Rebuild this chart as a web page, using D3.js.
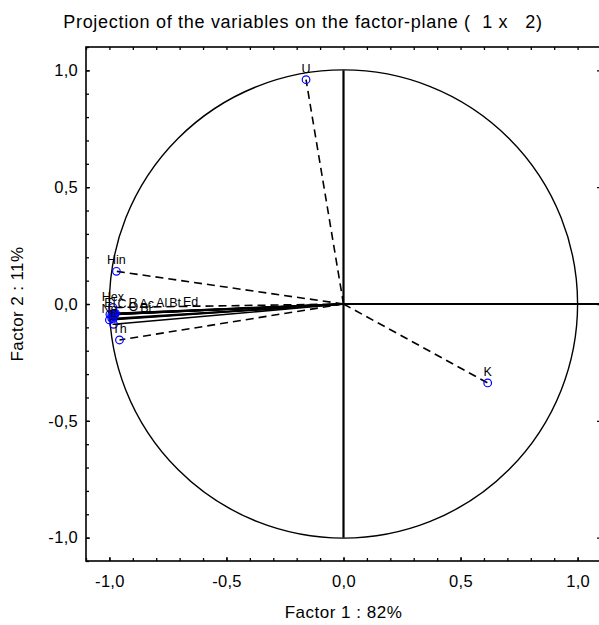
<!DOCTYPE html>
<html>
<head>
<meta charset="utf-8">
<script src="https://cdn.jsdelivr.net/npm/d3@7"></script>
<style>
  html, body { margin: 0; padding: 0; background: #fff; }
  svg { display: block; font-family: "Liberation Sans", Arial, sans-serif; }
</style>
</head>
<body>
<svg id="chart" width="599" height="625"></svg>
<script>
// Variable loadings on factors 1 and 2
const varNames = ["U", "K", "Hin", "Hex", "Th", "El", "C", "R", "Ac", "Al", "Bt", "Ed", "Na", "O", "L", "Bi"];
const factor1  = [-0.16, 0.616, -0.97, -0.985, -0.957, -0.998, -0.99, -0.986, -0.983, -0.98, -0.977, -0.974, -1.0, -0.99, -0.982, -0.985];
const factor2  = [0.96, -0.338, 0.14, -0.015, -0.154, -0.044, -0.046, -0.043, -0.045, -0.041, -0.044, -0.04, -0.068, -0.062, -0.087, -0.065];
// Supplementary variables are joined to the origin with dashed lines
const supplementary = [true, true, true, true, true, false, false, false, false, false, false, false, false, false, false, false];

const majorTicks = [-1.0, -0.5, 0.0, 0.5, 1.0];
const minorTicks = d3.range(-11, 12).map(d => d / 10);

const titleText = "Projection of the variables on the factor-plane (\u00a0 1 x \u00a0 2)";
const xTitle = "Factor 1 : 82%";
const yTitle = "Factor 2 : 11%";

const vars = varNames.map((name, i) => ({
  name, f1: factor1[i], f2: factor2[i], supp: supplementary[i]
}));

const svg = d3.select("#chart");
const x = d3.scaleLinear().domain([-1.1, 1.1]).range([86, 601]);
const y = d3.scaleLinear().domain([-1.1, 1.1]).range([561, 47]);

const locale = d3.formatLocale({ decimal: ",", thousands: ".", grouping: [3], currency: ["", ""], minus: "-" });
const fmt = locale.format(".1f");

// Title
svg.append("text")
  .attr("x", 303).attr("y", 28)
  .attr("text-anchor", "middle")
  .attr("font-size", 18)
  .attr("letter-spacing", 0.7)
  .text(titleText);

// Axis titles
svg.append("text")
  .attr("x", x(0)).attr("y", 618)
  .attr("text-anchor", "middle")
  .attr("font-size", 17)
  .attr("letter-spacing", 0.5)
  .text(xTitle);
svg.append("text")
  .attr("transform", `translate(23,${y(0)}) rotate(-90)`)
  .attr("text-anchor", "middle")
  .attr("font-size", 17)
  .attr("letter-spacing", 0.4)
  .text(yTitle);

// Unit circle
svg.append("circle")
  .attr("cx", x(0)).attr("cy", y(0))
  .attr("r", x(1) - x(0))
  .attr("fill", "none").attr("stroke", "#000").attr("stroke-width", 1.4);

// Cross lines through the origin
svg.append("line")
  .attr("x1", x(0)).attr("x2", x(0)).attr("y1", y(1)).attr("y2", y(-1))
  .attr("stroke", "#000").attr("stroke-width", 2.2);
svg.append("line")
  .attr("x1", x(0)).attr("x2", x(1.1)).attr("y1", y(0)).attr("y2", y(0))
  .attr("stroke", "#000").attr("stroke-width", 2.2);

// Vectors from the origin to each variable
svg.append("g").selectAll("line")
  .data(vars)
  .join("line")
  .attr("x1", x(0)).attr("y1", y(0))
  .attr("x2", d => x(d.f1)).attr("y2", d => y(d.f2))
  .attr("stroke", "#000")
  .attr("stroke-width", 1.6)
  .attr("stroke-dasharray", d => d.supp ? "8,5" : null);

// Variable markers
svg.append("g").selectAll("circle")
  .data(vars)
  .join("circle")
  .attr("cx", d => x(d.f1)).attr("cy", d => y(d.f2))
  .attr("r", 3.8)
  .attr("fill", "none").attr("stroke", "#0000ff").attr("stroke-width", 1.2);

// Variable labels, centred above each marker; labels sharing a row are
// pushed to the right so that they read side by side
const labels = svg.append("g").selectAll("text")
  .data(vars)
  .join("text")
  .attr("x", d => x(d.f1)).attr("y", d => y(d.f2) - 7)
  .attr("text-anchor", "start")
  .attr("font-size", 12.5)
  .text(d => d.name);

const placed = [];
labels.each(function (d) {
  const w = this.getComputedTextLength();
  const base = y(d.f2) - 7;
  let left = x(d.f1) - w / 2;
  let moved = true;
  while (moved) {
    moved = false;
    for (const p of placed) {
      if (Math.abs(p.base - base) < 4 && left < p.right + 1 && left + w > p.left - 1) {
        left = p.right + 2;
        moved = true;
      }
    }
  }
  placed.push({ left, right: left + w, base });
  d3.select(this).attr("x", left);
});

// Frame and ticks
function styleAxis(g) {
  g.select(".domain").remove();
  g.selectAll("line").attr("stroke", "#000").attr("stroke-width", 1.3);
  g.selectAll("text").attr("font-size", 16.5).attr("letter-spacing", 0.3)
    .attr("fill", "#000").attr("font-family", "Liberation Sans, Arial, sans-serif");
}

svg.append("g").attr("transform", `translate(0,${y(-1.1)})`)
  .call(d3.axisBottom(x).tickValues(majorTicks).tickFormat(fmt).tickSizeInner(-4).tickPadding(14))
  .call(styleAxis);
svg.append("g").attr("transform", `translate(0,${y(-1.1)})`)
  .call(d3.axisBottom(x).tickValues(minorTicks).tickFormat("").tickSizeInner(-3))
  .call(styleAxis);
svg.append("g").attr("transform", `translate(0,${y(1.1)})`)
  .call(d3.axisTop(x).tickValues(minorTicks).tickFormat("").tickSizeInner(-3))
  .call(styleAxis);
svg.append("g").attr("transform", `translate(${x(-1.1)},0)`)
  .call(d3.axisLeft(y).tickValues(majorTicks).tickFormat(fmt).tickSizeInner(-4).tickPadding(8))
  .call(styleAxis);
svg.append("g").attr("transform", `translate(${x(-1.1)},0)`)
  .call(d3.axisLeft(y).tickValues(minorTicks).tickFormat("").tickSizeInner(-3))
  .call(styleAxis);
svg.append("g").attr("transform", `translate(${x(1.1)},0)`)
  .call(d3.axisRight(y).tickValues(majorTicks).tickFormat("").tickSizeInner(-4))
  .call(styleAxis);

svg.append("rect")
  .attr("x", x(-1.1)).attr("y", y(1.1))
  .attr("width", x(1.1) - x(-1.1)).attr("height", y(-1.1) - y(1.1))
  .attr("fill", "none").attr("stroke", "#000").attr("stroke-width", 1.6);
</script>
</body>
</html>
